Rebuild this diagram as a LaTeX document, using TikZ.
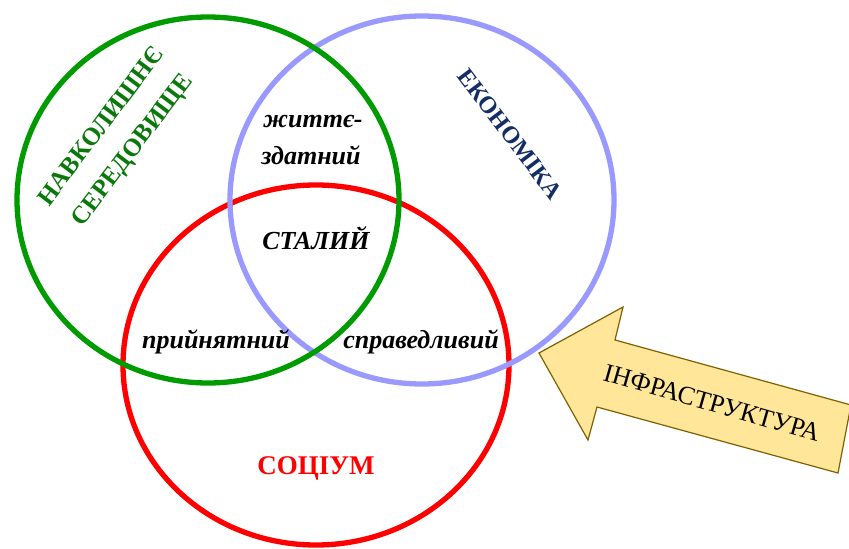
\documentclass[tikz,border=0pt]{standalone}
\usepackage{fontspec}
\setmainfont{Liberation Serif}
\definecolor{cgreen}{RGB}{0,155,0}
\definecolor{cblue}{RGB}{153,153,255}
\definecolor{cred}{RGB}{255,0,0}
\definecolor{tgreen}{RGB}{10,120,10}
\definecolor{tnavy}{RGB}{20,45,100}
\definecolor{afill}{RGB}{255,230,153}
\definecolor{aedge}{RGB}{127,96,0}
\begin{document}
\begin{tikzpicture}[x=1pt,y=-1pt,
  ring/.style={line width=5.3pt},
  itl/.style={font=\fontsize{26}{28}\selectfont\bfseries\itshape, inner sep=0pt},
  big/.style={font=\fontsize{25}{39}\selectfont\bfseries, inner sep=0pt}]
\useasboundingbox (0,0) rectangle (849,549);
\draw[ring, cred] (316,365) ellipse [x radius=193, y radius=180];
\draw[ring, cblue] (422,200) ellipse [x radius=192, y radius=184];
\draw[ring, cgreen] (208,200) ellipse [x radius=191, y radius=183];
\node[itl] (z1) at (313,122) {життє-};
\node[itl] (z2) at (311,155) {здатний};
\node[itl] (st) at (316,238) {СТАЛИЙ};
\node[itl] (pr) at (216,342) {прийнятний};
\node[itl] (sp) at (421,342) {справедливий};
\node[big, text=cred, font=\fontsize{27}{30}\selectfont\bfseries] (so) at (316,468) {СОЦІУМ};
\node[big, text=tnavy, rotate=-53, font=\fontsize{24}{30}\selectfont\bfseries] (ek) at (510,134) {ЕКОНОМІКА};
\node[big, text=tgreen, rotate=53, align=center] (nv) at (118,139) {НАВКОЛИШНЄ\\СЕРЕДОВИЩЕ};
\draw[aedge, fill=afill, line width=1.2pt, line join=miter]
  (539,353) -- (623,307) -- (615,340) -- (851,405) -- (838,473) -- (597,407) -- (588,440) -- cycle;
\node[font=\fontsize{26}{28}\selectfont, rotate=-16, inner sep=0pt] (inf) at (712,403) {ІНФРАСТРУКТУРА};
\end{tikzpicture}
\end{document}
